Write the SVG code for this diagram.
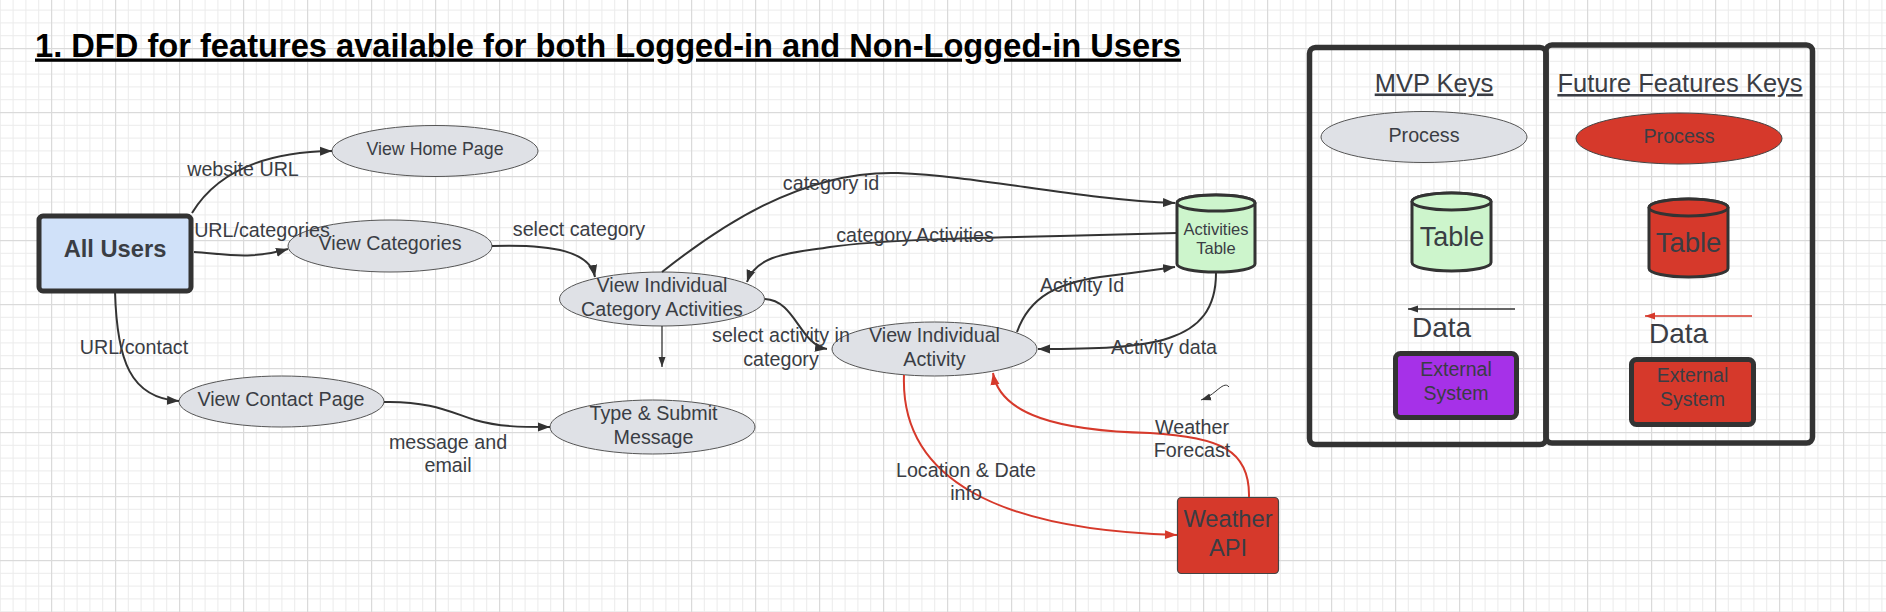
<svg xmlns="http://www.w3.org/2000/svg" width="1886" height="612" viewBox="0 0 1886 612">
<defs>
<pattern id="grid" x="-13" y="-16" width="64" height="64" patternUnits="userSpaceOnUse">
<rect x="0" y="0" width="64" height="64" fill="#ffffff"/>
<g fill="#ececec">
<rect x="12.8" y="0" width="1" height="64"/><rect x="25.6" y="0" width="1" height="64"/><rect x="38.4" y="0" width="1" height="64"/><rect x="51.2" y="0" width="1" height="64"/>
<rect x="0" y="12.8" width="64" height="1"/><rect x="0" y="25.6" width="64" height="1"/><rect x="0" y="38.4" width="64" height="1"/><rect x="0" y="51.2" width="64" height="1"/>
</g>
<g fill="#dadada">
<rect x="0" y="0" width="1.2" height="64"/><rect x="0" y="0" width="64" height="1.2"/>
</g>
</pattern>
<marker id="arr" markerUnits="userSpaceOnUse" markerWidth="13" markerHeight="10" refX="12" refY="5" orient="auto">
<path d="M0,0.5 L12,5 L0,9.5 z" fill="#333"/>
</marker>
<marker id="arrS" markerUnits="userSpaceOnUse" markerWidth="11" markerHeight="8" refX="10" refY="4" orient="auto">
<path d="M0,0.5 L10,4 L0,7.5 z" fill="#333"/>
</marker>
<marker id="arrR" markerUnits="userSpaceOnUse" markerWidth="13" markerHeight="10" refX="12" refY="5" orient="auto">
<path d="M0,0.5 L12,5 L0,9.5 z" fill="#d6392b"/>
</marker>
<marker id="arrRS" markerUnits="userSpaceOnUse" markerWidth="11" markerHeight="8" refX="10" refY="4" orient="auto">
<path d="M0,0.5 L10,4 L0,7.5 z" fill="#d6392b"/>
</marker>
</defs>
<style>
text{font-family:"Liberation Sans",Arial,sans-serif;fill:#3a3d44;}
.t{font-size:19.7px;}
.c{text-anchor:middle;}
.proc{fill:#dfe1e6;stroke:#555;stroke-width:1;}
.procR{fill:#d6392b;stroke:#444;stroke-width:1;}
.flow{fill:none;stroke:#333;stroke-width:2;marker-end:url(#arr);}
.flowT{fill:none;stroke:#333;stroke-width:1.3;marker-end:url(#arrS);}
.red{fill:none;stroke:#d6392b;stroke-width:2;marker-end:url(#arrR);}
.cyl{stroke:#333;stroke-width:3;}
.ext{stroke:#333;stroke-width:5;}
.panel{fill:none;stroke:#333;stroke-width:5.5;}
.u{text-decoration:underline;}
</style>
<rect x="0" y="0" width="1886" height="612" fill="url(#grid)"/>

<text x="35" y="56.5" style="font-size:32.6px;font-weight:bold;fill:#000;" class="u" textLength="1146" lengthAdjust="spacingAndGlyphs">1. DFD for features available for both Logged-in and Non-Logged-in Users</text>

<g id="all-users">
<rect x="39" y="216" width="152" height="75" rx="4" fill="#d0e1f9" stroke="#333" stroke-width="5"/>
<text x="115" y="257" class="c" style="font-size:23.7px;font-weight:bold;">All Users</text>
</g>
<g id="view-home-page">
<ellipse class="proc" cx="435" cy="151" rx="103" ry="25.5"/>
<text x="435" y="154.6" class="c" style="font-size:17.8px;">View Home Page</text>
</g>
<g id="view-categories">
<ellipse class="proc" cx="390" cy="246" rx="102" ry="26"/>
<text x="390" y="250.4" class="t c">View Categories</text>
</g>
<g id="view-individual-category-activities">
<ellipse class="proc" cx="662" cy="299" rx="102.5" ry="27"/>
<text x="662" y="292" class="t c">View Individual</text>
<text x="662" y="316" class="t c">Category Activities</text>
</g>
<g id="view-individual-activity">
<ellipse class="proc" cx="934.5" cy="349" rx="102.5" ry="27"/>
<text x="934.5" y="342" class="t c">View Individual</text>
<text x="934.5" y="366.4" class="t c">Activity</text>
</g>
<g id="type-submit-message">
<ellipse class="proc" cx="652.5" cy="427" rx="102.5" ry="27"/>
<text x="653.5" y="420" class="t c">Type &amp; Submit</text>
<text x="653.5" y="444.4" class="t c">Message</text>
</g>
<g id="view-contact-page">
<ellipse class="proc" cx="281.5" cy="401.5" rx="102.5" ry="25.5"/>
<text x="281" y="406" class="t c">View Contact Page</text>
</g>
<g id="activities-table">
<path class="cyl" fill="#cdf5cc" d="M1177,203 L1177,264 A39,8 0 0 0 1255,264 L1255,203 A39,8 0 0 0 1177,203 Z"/>
<ellipse class="cyl" fill="#cdf5cc" cx="1216" cy="203" rx="39" ry="8"/>
<text x="1216" y="235" class="c" style="font-size:16.5px;">Activities</text>
<text x="1216" y="254" class="c" style="font-size:16.5px;">Table</text>
</g>
<g id="weather-api">
<rect x="1177.5" y="497.5" width="101" height="76" rx="4" fill="#d6392b" stroke="#444" stroke-width="1.2"/>
<text x="1228" y="526.5" class="c" style="font-size:23.7px;">Weather</text>
<text x="1228" y="555.5" class="c" style="font-size:23.7px;">API</text>
</g>

<g id="connectors">
<path class="flow" d="M192,213 C215,175 260,152 332,151"/>
<path class="flow" d="M194,252 C225,254 250,260 288,249"/>
<path class="flow" d="M492,246 C555,244 590,252 595,277"/>
<path class="flow" d="M662,272 C715,230 800,170 898,173 C980,176 1080,200 1175,203"/>
<path class="flow" d="M1177,233 L1060,236 C960,238 880,240 830,247 C795,253 757,253 747,282"/>
<path class="flow" d="M765,299 C795,300 800,345 827,349"/>
<path class="flowT" d="M662,326 L662,367"/>
<path class="flow" d="M115,292 C117,360 130,398 179,401"/>
<path class="flow" d="M384,402 C430,401 450,412 475,420 C500,427 520,427 550,427"/>
<path class="flow" d="M1017,332 C1030,295 1060,283 1100,277 C1140,272 1160,269 1175,267"/>
<path class="flow" d="M1216,273 C1216,345 1150,349 1038,349"/>
<path class="red" d="M904,375 C900,480 1000,530 1177,535"/>
<path class="red" d="M1249,497 C1250,450 1220,437 1150,433 C1060,431 1000,415 993,373"/>
<path class="flowT" style="stroke-width:1" d="M1229,387 C1226,383 1222,386 1216,391 C1211,395 1207,398 1201,400"/>
<g class="t c">
<text x="243" y="176">website URL</text>
<text x="262" y="237">URL/categories</text>
<text x="579" y="236">select category</text>
<text x="831" y="190">category id</text>
<text x="915" y="242">category Activities</text>
<text x="781" y="342">select activity in</text>
<text x="781" y="366">category</text>
<text x="134" y="353.7">URL/contact</text>
<text x="448" y="448.7">message and</text>
<text x="448" y="472">email</text>
<text x="1082" y="292">Activity Id</text>
<text x="1164" y="353.7">Activity data</text>
<text x="966" y="477">Location &amp; Date</text>
<text x="966" y="500.3">info</text>
<text x="1192" y="434.3">Weather</text>
<text x="1192" y="457">Forecast</text>
</g>
</g>

<g id="mvp-keys">
<rect class="panel" x="1309.5" y="47.5" width="236.5" height="397" rx="6"/>
<text x="1434" y="91.5" class="c u" style="font-size:25.5px;">MVP Keys</text>
<ellipse class="proc" cx="1424" cy="137" rx="103" ry="25.5"/>
<text x="1424" y="141.5" class="t c">Process</text>
<path class="cyl" fill="#cdf5cc" d="M1412,201.5 L1412,262.5 A39.5,8.5 0 0 0 1491,262.5 L1491,201.5 A39.5,8.5 0 0 0 1412,201.5 Z"/>
<ellipse class="cyl" fill="#cdf5cc" cx="1451.5" cy="201.5" rx="39.5" ry="8.5"/>
<text x="1452" y="246.4" class="c" style="font-size:27px;">Table</text>
<path d="M1515,309 L1408,309" fill="none" stroke="#333" stroke-width="1.5" marker-end="url(#arrS)"/>
<text x="1412" y="337" style="font-size:28px;">Data</text>
<rect class="ext" x="1395.5" y="353.5" width="121" height="64" rx="5" fill="#a631e8"/>
<text x="1456" y="376.3" class="c" style="font-size:19.5px;">External</text>
<text x="1456" y="399.7" class="c" style="font-size:19.5px;">System</text>
</g>
<g id="future-features-keys">
<rect class="panel" x="1546" y="45" width="266.5" height="398" rx="6"/>
<text x="1680" y="92" class="c u" style="font-size:25.5px;">Future Features Keys</text>
<ellipse class="procR" cx="1679" cy="138.5" rx="103" ry="25.5"/>
<text x="1679" y="143" class="t c">Process</text>
<path class="cyl" fill="#d6392b" d="M1649,207.5 L1649,268.5 A39.5,8.5 0 0 0 1728,268.5 L1728,207.5 A39.5,8.5 0 0 0 1649,207.5 Z"/>
<ellipse class="cyl" fill="#d6392b" cx="1688.5" cy="207.5" rx="39.5" ry="8.5"/>
<text x="1688.5" y="251.5" class="c" style="font-size:27.5px;">Table</text>
<path d="M1752,316 L1645,316" fill="none" stroke="#d6392b" stroke-width="1.5" marker-end="url(#arrRS)"/>
<text x="1649" y="343" style="font-size:28px;">Data</text>
<rect class="ext" x="1631.5" y="359.5" width="122" height="65" rx="5" fill="#d6392b"/>
<text x="1692.5" y="382" class="c" style="font-size:19.5px;">External</text>
<text x="1692.5" y="406.3" class="c" style="font-size:19.5px;">System</text>
</g>
</svg>
